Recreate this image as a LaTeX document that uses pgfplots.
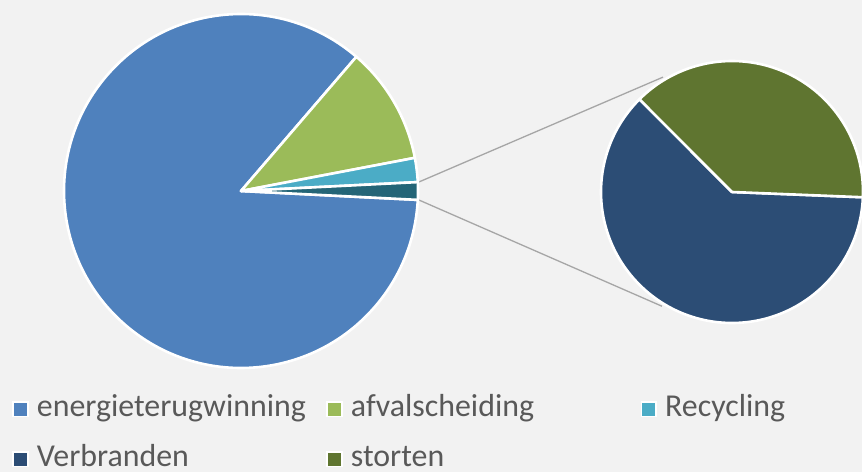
\documentclass[border=0pt]{standalone}
\usepackage{pgfplots}
\pgfplotsset{compat=1.18}
\usetikzlibrary{calc}
\usepackage{fontspec}
\setmainfont{Carlito}

\definecolor{bg}{HTML}{F2F2F2}
\definecolor{cEnergie}{HTML}{4F81BD}
\definecolor{cAfval}{HTML}{9BBB59}
\definecolor{cRecyc}{HTML}{4BACC6}
\definecolor{cOther}{HTML}{246577}
\definecolor{cVerbr}{HTML}{2C4D75}
\definecolor{cStort}{HTML}{5F7530}
\definecolor{legtext}{HTML}{595959}
\definecolor{conn}{HTML}{A6A6A6}

% shares (%)
\def\vEnergie{85.5}
\def\vAfval{10.7}
\def\vRecyc{2.2}
\def\vVerbr{0.99}
\def\vStort{0.61}

% main pie angles: "other" slice centred on 0 deg
\pgfmathsetmacro\vOther{\vVerbr+\vStort}
\pgfmathsetmacro\aA{-1.8*\vOther}
\pgfmathsetmacro\aB{\aA+3.6*\vOther}
\pgfmathsetmacro\aC{\aB+3.6*\vRecyc}
\pgfmathsetmacro\aD{\aC+3.6*\vAfval}
\pgfmathsetmacro\aE{\aD+3.6*\vEnergie}
% secondary pie
\pgfmathsetmacro\sA{-2.3}
\pgfmathsetmacro\sB{\sA+360*\vStort/\vOther}
\pgfmathsetmacro\sC{\sA+360}

\newcommand{\slice}[6]{%
  \filldraw[fill=#6, draw=white, line width=2.6bp, line join=round]
    (axis cs:#1,#2) -- ++(#4:#3bp) arc[start angle=#4, end angle=#5, radius=#3bp] -- cycle;}

\newcommand{\legitem}[4]{%
  \filldraw[fill=#4, draw=white, line width=1.6bp]
    (axis cs:#1-23.5,#2) rectangle (axis cs:#1-9,#2+14.5);
  \node[anchor=base west, inner sep=0pt, text=legtext,
        font=\fontsize{32}{38}\selectfont] at (axis cs:#1,#2) {#3};}

\begin{document}
\begin{tikzpicture}
\begin{axis}[
    name=ax,
    width=862bp, height=472bp,
    scale only axis,
    xmin=0, xmax=862, ymin=0, ymax=472,
    hide axis,
    clip=false,
]
\fill[bg] (axis cs:0,0) rectangle (axis cs:862,472);

% connector lines
\draw[conn, line width=1.3bp]
  ($(axis cs:241,281)+(\aB:178bp)$) -- ($(axis cs:732,280)+(121:134bp)$);
\draw[conn, line width=1.3bp]
  ($(axis cs:241,281)+(\aA:178bp)$) -- ($(axis cs:732,280)+(238.5:134bp)$);

% main pie
\slice{241}{281}{177}{\aD}{\aE}{cEnergie}
\slice{241}{281}{177}{\aC}{\aD}{cAfval}
\slice{241}{281}{177}{\aB}{\aC}{cRecyc}
\slice{241}{281}{177}{\aA}{\aB}{cOther}

% secondary pie
\slice{732}{280}{131}{\sB}{\sC}{cVerbr}
\slice{732}{280}{131}{\sA}{\sB}{cStort}

% legend
\legitem{36.7}{55.3}{energieterugwinning}{cEnergie}
\legitem{350.7}{55.3}{afvalscheiding}{cAfval}
\legitem{665}{55.3}{Recycling}{cRecyc}
\legitem{36.7}{5.5}{Verbranden}{cVerbr}
\legitem{350.7}{5.5}{storten}{cStort}
\end{axis}
\pgfresetboundingbox
\path (ax.south west) rectangle (ax.north east);
\end{tikzpicture}
\end{document}
